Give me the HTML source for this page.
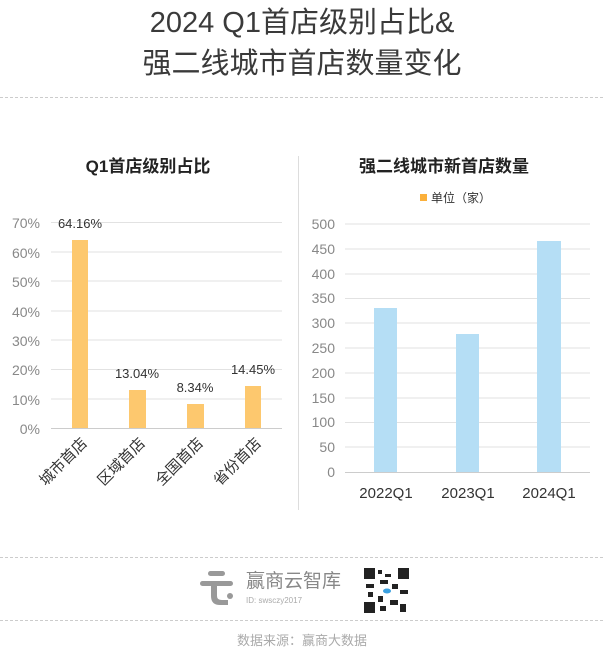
<!DOCTYPE html>
<html><head><meta charset="utf-8"><style>
html,body{margin:0;padding:0;background:#fff;}
body{width:605px;height:657px;overflow:hidden;}
svg text{font-family:"Liberation Sans","Noto Sans CJK SC",sans-serif;}
</style></head><body>
<svg width="605" height="657" viewBox="0 0 605 657" xmlns="http://www.w3.org/2000/svg">
<text x="302" y="32" text-anchor="middle" font-size="29" fill="#3a3a3a">2024 Q1首店级别占比&amp;</text>
<text x="302" y="73" text-anchor="middle" font-size="29" fill="#3a3a3a">强二线城市首店数量变化</text>
<line x1="0" y1="97.5" x2="605" y2="97.5" stroke="#ccc" stroke-dasharray="3,2"/>
<text x="148" y="172" text-anchor="middle" font-size="17" font-weight="bold" fill="#222">Q1首店级别占比</text>
<text x="444" y="172" text-anchor="middle" font-size="17" font-weight="bold" fill="#222">强二线城市新首店数量</text>
<line x1="298.5" y1="156" x2="298.5" y2="510" stroke="#ddd"/>
<g stroke="#e2e2e2">
<line x1="51" y1="222.5" x2="282" y2="222.5"/><line x1="51" y1="252" x2="282" y2="252"/><line x1="51" y1="281" x2="282" y2="281"/><line x1="51" y1="311" x2="282" y2="311"/><line x1="51" y1="340" x2="282" y2="340"/><line x1="51" y1="369.5" x2="282" y2="369.5"/><line x1="51" y1="399" x2="282" y2="399"/><line x1="51" y1="428.5" x2="282" y2="428.5" stroke="#ccc"/>
</g>
<g font-size="14" fill="#888" text-anchor="end">
<text x="40" y="228">70%</text><text x="40" y="258">60%</text><text x="40" y="287">50%</text><text x="40" y="317">40%</text><text x="40" y="346">30%</text><text x="40" y="375">20%</text><text x="40" y="405">10%</text><text x="40" y="434">0%</text>
</g>
<g fill="#fdc86e">
<rect x="72" y="240" width="16" height="188"/><rect x="129" y="390" width="17" height="38"/><rect x="187" y="404" width="17" height="24"/><rect x="245" y="386" width="16" height="42"/>
</g>
<g font-size="13" fill="#333" text-anchor="middle">
<text x="80" y="228">64.16%</text><text x="137" y="378">13.04%</text><text x="195" y="392">8.34%</text><text x="253" y="374">14.45%</text>
</g>
<g font-size="15" fill="#333" text-anchor="end">
<text transform="translate(88,444) rotate(-45)">城市首店</text>
<text transform="translate(146,444) rotate(-45)">区域首店</text>
<text transform="translate(204,444) rotate(-45)">全国首店</text>
<text transform="translate(262,444) rotate(-45)">省份首店</text>
</g>
<rect x="420" y="194" width="7" height="7" fill="#fbb03b"/>
<text x="431" y="202" font-size="12" fill="#333">单位（家）</text>
<g stroke="#e2e2e2">
<line x1="345" y1="224" x2="590" y2="224"/><line x1="345" y1="249" x2="590" y2="249"/><line x1="345" y1="274" x2="590" y2="274"/><line x1="345" y1="298.5" x2="590" y2="298.5"/><line x1="345" y1="323" x2="590" y2="323"/><line x1="345" y1="348" x2="590" y2="348"/><line x1="345" y1="373" x2="590" y2="373"/><line x1="345" y1="398" x2="590" y2="398"/><line x1="345" y1="422.5" x2="590" y2="422.5"/><line x1="345" y1="447" x2="590" y2="447"/><line x1="345" y1="472.5" x2="590" y2="472.5" stroke="#ccc"/>
</g>
<g font-size="14" fill="#888" text-anchor="end">
<text x="335" y="229">500</text><text x="335" y="254">450</text><text x="335" y="279">400</text><text x="335" y="303">350</text><text x="335" y="328">300</text><text x="335" y="353">250</text><text x="335" y="378">200</text><text x="335" y="403">150</text><text x="335" y="427">100</text><text x="335" y="452">50</text><text x="335" y="477">0</text>
</g>
<g fill="#b5def5">
<rect x="374" y="308" width="23" height="164"/><rect x="456" y="334" width="23" height="138"/><rect x="537" y="241" width="24" height="231"/>
</g>
<g font-size="15" fill="#333" text-anchor="middle">
<text x="386" y="498">2022Q1</text><text x="468" y="498">2023Q1</text><text x="549" y="498">2024Q1</text>
</g>
<line x1="0" y1="557.5" x2="605" y2="557.5" stroke="#ccc" stroke-dasharray="3,2"/>
<line x1="0" y1="620.5" x2="605" y2="620.5" stroke="#ccc" stroke-dasharray="3,2"/>
<g fill="#999">
<rect x="208" y="571" width="17" height="5" rx="2.5"/>
<rect x="200" y="581" width="33" height="5" rx="2.5"/>
<path d="M211 584 L217 584 L217 596 Q217 600 222 600 L228 600 L228 605 L220 605 Q211 605 211 596 Z"/>
<circle cx="230" cy="596" r="3"/>
</g>
<text x="246" y="587" font-size="19" fill="#888">赢商云智库</text>
<text x="246" y="603" font-size="8" fill="#aaa">ID: swsczy2017</text>
<g fill="#222">
<rect x="364" y="568" width="45" height="45" fill="#fff"/>
<rect x="364" y="568" width="11" height="11"/><rect x="398" y="568" width="11" height="11"/><rect x="364" y="602" width="11" height="11"/>
<rect x="378" y="570" width="4" height="4"/><rect x="385" y="574" width="6" height="3"/><rect x="380" y="580" width="8" height="4"/><rect x="366" y="584" width="8" height="4"/><rect x="392" y="584" width="6" height="5"/><rect x="400" y="590" width="8" height="4"/><rect x="378" y="596" width="5" height="6"/><rect x="390" y="600" width="8" height="5"/><rect x="380" y="606" width="6" height="5"/><rect x="400" y="604" width="6" height="8"/><rect x="368" y="592" width="5" height="5"/>
</g>
<ellipse cx="387" cy="591" rx="4" ry="2.5" fill="#3aa0e0"/>
<text x="302" y="645" text-anchor="middle" font-size="13" fill="#aaa">数据来源：赢商大数据</text>
</svg>
</body></html>
